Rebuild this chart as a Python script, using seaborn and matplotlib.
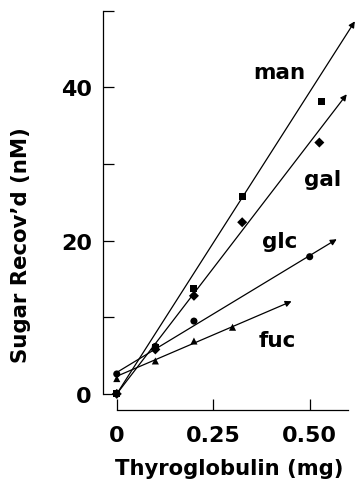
import numpy as np
import pandas as pd
import seaborn as sns
import matplotlib.pyplot as plt

# data
sugars = ["man", "gal", "glc", "fuc"]
man_x = [0, 0.1, 0.2, 0.325, 0.53]
man_y = [0, 6.0, 13.8, 25.8, 38.2]
gal_x = [0, 0.1, 0.2, 0.325, 0.525]
gal_y = [0, 5.8, 12.8, 22.4, 32.8]
glc_x = [0, 0.1, 0.2, 0.5]
glc_y = [2.6, 6.2, 9.5, 17.9]
fuc_x = [0, 0.1, 0.2, 0.3]
fuc_y = [2.0, 4.3, 6.9, 8.7]

# fitted lines (intercept, slope, end of arrow)
fit_intercept = [0.0, 0.0, 2.8, 2.3]
fit_slope = [78.8, 65.6, 30.5, 21.6]
fit_end = [0.617, 0.596, 0.57, 0.453]

label_pos = {"man": (0.422, 42.0), "gal": (0.534, 28.0),
             "glc": (0.422, 20.0), "fuc": (0.417, 7.0)}

df = pd.concat([
    pd.DataFrame({"x": man_x, "y": man_y, "sugar": "man"}),
    pd.DataFrame({"x": gal_x, "y": gal_y, "sugar": "gal"}),
    pd.DataFrame({"x": glc_x, "y": glc_y, "sugar": "glc"}),
    pd.DataFrame({"x": fuc_x, "y": fuc_y, "sugar": "fuc"}),
])

sns.set_style("ticks")
plt.rcParams['font.family'] = ['DejaVu Sans']
plt.rcParams['font.weight'] = 'bold'
for k in ["text.color", "axes.labelcolor", "xtick.color", "ytick.color", "axes.edgecolor"]:
    plt.rcParams[k] = "black"

fig = plt.figure(figsize=(3.56, 4.85), dpi=100)
ax = fig.add_axes([0.289, 0.1526, 0.711, 0.839])

markers = {"man": "s", "gal": "D", "glc": "o", "fuc": "^"}
sns.scatterplot(data=df, x="x", y="y", style="sugar", markers=markers,
                color="black", s=26, edgecolor="black", linewidth=0,
                legend=False, ax=ax)

for s, b, m, xe in zip(sugars, fit_intercept, fit_slope, fit_end):
    ax.annotate("", xy=(xe, b + m * xe), xytext=(0, b),
                arrowprops=dict(arrowstyle="-|>", color="black", lw=0.9,
                                mutation_scale=9, shrinkA=0, shrinkB=0))
    ax.text(*label_pos[s], s, fontsize=15.5, fontweight="bold",
            ha="center", va="center", color="black")

ax.set_xlim(-0.036, 0.62)
ax.set_ylim(-2.1, 51)
ax.spines["top"].set_visible(False)
ax.spines["right"].set_visible(False)
ax.spines["left"].set_bounds(0, 50)
ax.spines["bottom"].set_bounds(0, 0.6)
ax.set_xticks([0, 0.25, 0.5])
ax.set_xticklabels(["0", "0.25", "0.50"])
ax.set_yticks([0, 10, 20, 30, 40, 50])
ax.set_yticklabels(["0", "", "20", "", "40", ""])
ax.tick_params(direction="in", length=8, width=0.9, labelsize=16, pad=8)
ax.tick_params(axis="x", pad=11)
for sp in ax.spines.values():
    sp.set_linewidth(0.9)

ax.set_xlabel("Thyroglobulin (mg)", fontsize=15.2, fontweight="bold", labelpad=9)
ax.set_ylabel("Sugar Recov’d (nM)", fontsize=15.3, fontweight="bold", va="center")
ax.yaxis.set_label_coords(-0.322, 0.408)

fig.savefig("out.png", dpi=100)
